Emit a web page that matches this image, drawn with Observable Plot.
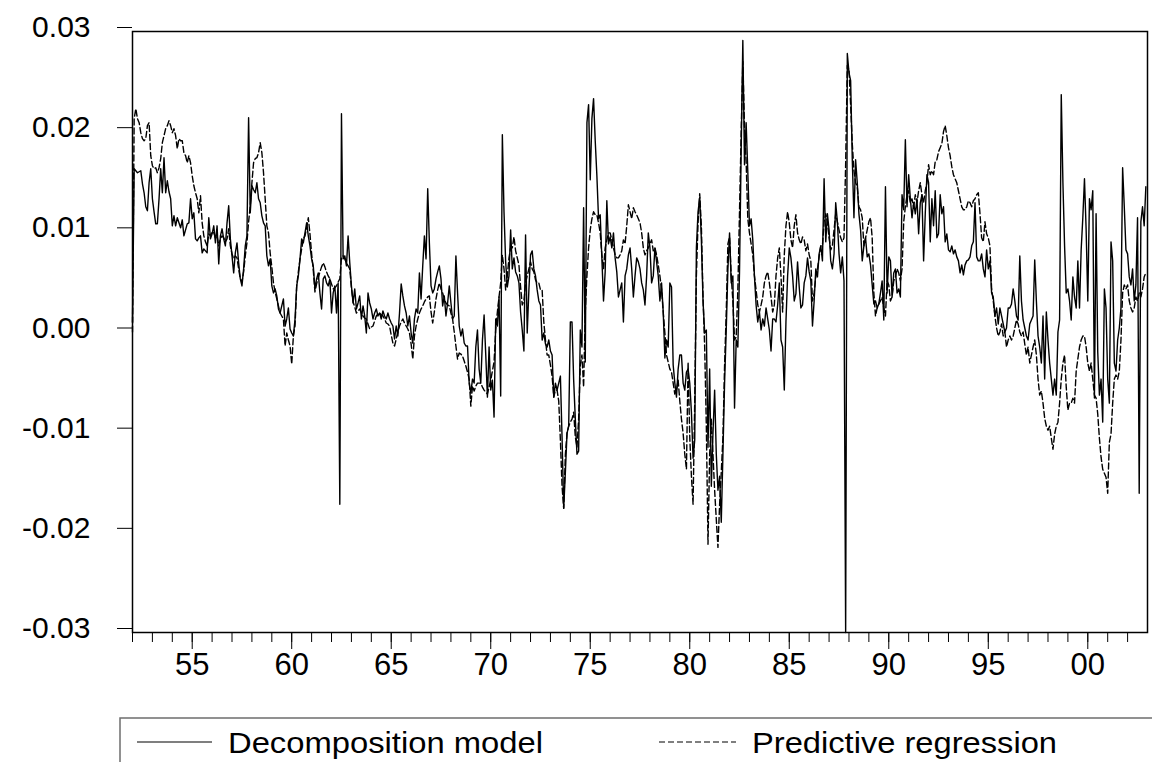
<!DOCTYPE html>
<html>
<head>
<meta charset="utf-8">
<script src="https://cdn.jsdelivr.net/npm/d3@7"></script>
<script src="https://cdn.jsdelivr.net/npm/@observablehq/plot@0.6"></script>
<style>
  html, body { margin: 0; padding: 0; background: #fff; }
  svg { display: block; }
</style>
</head>
<body>
<div id="chart"></div>
<script>
// Monthly observations, January 1952 to December 2002, values in thousandths (per mille).
const startYear = 1952;
const seriesNames = ["Decomposition model", "Predictive regression"];

const decompositionPermil = [
  1.0, 16.3, 16.1, 15.9, 16.0, 16.1, 14.8, 13.9, 12.5, 12.1, 14.9, 16.3,
  13.3, 12.0, 10.8, 10.8, 13.3, 16.3, 13.9, 17.4, 13.9, 15.1, 14.0, 13.3,
  10.6, 11.6, 10.6, 11.4, 10.9, 10.4, 11.2, 9.6, 10.2, 10.8, 10.9, 13.3,
  11.3, 11.9, 9.3, 9.1, 9.4, 9.6, 7.9, 8.3, 8.1, 7.9, 11.4, 9.3,
  9.8, 10.6, 8.9, 10.6, 6.8, 9.6, 10.3, 9.3, 8.6, 10.9, 12.6, 9.3,
  7.6, 5.9, 7.9, 8.9, 6.9, 5.3, 4.6, 6.3, 8.6, 9.6, 21.4, 11.9,
  14.6, 14.2, 13.9, 14.9, 13.3, 12.9, 11.6, 10.9, 10.6, 7.6, 6.6, 7.3,
  4.6, 3.9, 4.3, 3.6, 2.3, 1.9, 2.6, 3.3, 0.6, 1.3, 2.4, 0.3,
  -0.1, -0.4, 1.3, 4.6, 5.6, 7.3, 9.3, 8.9, 9.9, 10.9, 9.6, 8.6,
  7.3, 6.6, 4.3, 5.3, 5.9, 3.9, 2.3, 5.3, 5.6, 4.9, 4.6, 5.3,
  1.9, 3.9, 4.6, 1.9, 4.9, -17.2, 21.8, 7.3, 7.6, 6.6, 9.6, 6.9,
  4.6, 2.9, 4.3, 2.3, 2.9, 3.6, 1.3, 2.6, 1.6, -0.1, 3.9, 2.9,
  2.3, 1.3, 1.9, 2.3, 1.6, 1.9, 1.3, 2.1, 1.6, 1.3, 1.9, 1.3,
  0.9, 0.6, -0.7, 0.6, -0.4, 1.9, 4.8, 3.6, 2.6, 1.9, 0.6, 1.6,
  -0.1, -1.1, 1.3, 2.3, 1.9, 5.9, 3.3, 6.6, 9.6, 7.3, 14.3, 8.9,
  4.6, 3.9, 4.3, 5.3, 6.0, 6.6, 5.3, 2.6, 3.6, 1.6, 2.9, 4.6,
  2.9, 1.3, 1.6, 7.6, 3.9, 0.6, -0.4, 0.3, -1.1, -1.4, -1.4, -5.1,
  -6.1, -4.7, -5.1, -1.5, 0.2, -3.7, -5.1, -0.8, 1.7, -2.3, -6.5, -1.5,
  -5.8, -4.8, -8.5, 1.3, 0.6, 3.5, -6.4, 19.7, 12.0, 7.0, 4.5, 5.6,
  10.2, 6.3, 7.4, 6.0, 5.6, 4.9, 2.0, 0.2, -1.9, 9.7, -0.1, 4.2,
  7.7, 8.1, 6.3, 5.6, 4.2, 3.1, 2.7, -0.8, -0.1, -1.2, -1.5, -0.8,
  -1.9, -2.3, -6.5, -5.1, -5.8, -5.1, -4.4, -10.5, -17.6, -14.0, -10.1, -9.4,
  1.0, 1.0, -4.8, -8.7, -12.2, -11.9, 0.2, -1.5, 12.4, -3.0, 20.9, 22.7,
  15.2, 21.3, 23.3, 19.1, 15.6, 11.3, 11.7, 7.4, 3.1, 6.0, 13.1, 8.8,
  9.5, 8.4, 9.9, 7.4, 6.0, 3.5, 4.2, 4.9, 1.0, 5.6, 6.3, 7.7,
  8.4, 6.3, 3.5, 5.6, 7.4, 7.0, 6.3, 4.9, 4.2, 2.7, 5.6, 9.9,
  8.4, 4.9, 5.6, 8.4, 7.0, 5.6, 3.1, 4.9, 2.0, -2.6, -0.8, -1.5,
  4.9, 4.5, -3.3, -5.1, -6.5, -3.7, -2.3, -2.3, -5.1, -5.8, -4.0, -3.7,
  -5.1, -8.0, -12.6, -10.8, 8.4, 12.0, 13.4, 9.2, 3.1, -0.1, 0.2, -11.5,
  -3.7, -15.4, -10.1, -5.8, -12.2, -15.8, -14.4, -19.0, -12.2, -5.1, 0.2, 6.3,
  9.9, 4.9, 5.6, -7.6, -0.8, -1.5, 6.0, 18.1, 29.1, 16.7, 20.9, 16.0,
  10.6, 11.3, 9.2, 5.6, 2.7, 1.0, 2.0, 0.2, 1.3, 0.6, 2.4, 1.3,
  0.2, -1.9, 1.3, 1.3, 1.0, 2.7, 4.9, -0.8, -1.5, -5.8, 1.0, 5.6,
  8.4, 7.4, 5.6, 3.1, 3.8, 7.0, 4.5, 2.4, 2.7, 4.9, 5.6, 7.4,
  6.0, 5.1, 0.6, 3.1, 6.3, 5.5, 7.8, 8.6, 7.1, 15.3, 9.0, 11.8,
  10.2, 7.1, 6.3, 7.8, 12.9, 11.0, 7.8, 5.9, 7.5, 5.1, -30.0, 27.8,
  25.9, 25.1, 17.2, 11.4, 17.2, 14.9, 11.8, 10.2, 7.1, 8.6, 9.4, 7.5,
  7.8, 6.7, 4.7, 2.8, 3.1, 2.4, 2.8, 3.9, 5.1, 1.2, 14.5, 3.9,
  7.5, 7.1, 3.5, 5.9, 6.3, 3.9, 4.3, 3.5, 13.7, 12.2, 19.2, 12.5,
  15.7, 13.3, 11.4, 12.9, 11.8, 13.3, 9.8, 12.9, 13.7, 7.1, 11.8, 15.7,
  14.9, 9.0, 13.3, 10.6, 14.1, 9.4, 9.8, 13.7, 11.8, 12.5, 9.0, 9.8,
  8.2, 8.0, 8.6, 7.8, 8.2, 7.5, 7.1, 5.9, 6.7, 5.7, 6.7, 7.1,
  7.2, 7.5, 8.6, 9.0, 12.9, 7.5, 7.1, 7.1, 7.8, 6.3, 5.5, 8.2,
  6.3, 7.1, 3.9, 3.5, 1.6, 2.4, 0.8, 2.4, 1.6, 0.8, 0.0, 0.4,
  2.4, 2.4, 2.8, 4.3, 3.1, 1.6, 1.2, 7.6, 3.1, 1.2, 0.4, -0.4,
  -0.8, 0.8, 1.2, 1.6, 7.2, 3.1, -0.4, -1.5, -3.1, 1.6, -4.7, 2.0,
  -0.8, -3.1, -4.7, -6.3, -4.7, -6.3, 0.0, 1.2, 23.7, 14.9, 8.6, 3.9,
  4.3, 3.1, 1.2, 5.5, 3.5, 2.4, 7.1, 2.4, 8.2, 11.4, 15.3, 10.2,
  3.1, 13.3, 12.2, 14.1, -6.6, 11.8, -2.0, -6.3, -4.7, -9.0, 4.3, 2.4,
  -4.7, -7.1, 9.0, 7.1, -3.1, -3.9, -0.8, 0.4, 2.4, 16.4, 12.5, 8.2,
  7.8, 5.5, 4.7, 6.3, 3.1, 4.7, 11.4, -16.1, 11.0, 12.5, 10.6, 14.5
];

const predictivePermil = [
  0.0, 21.3, 22.3, 21.3, 20.9, 19.9, 19.3, 19.1, 19.3, 20.6, 20.9, 17.6,
  16.6, 16.3, 16.4, 15.9, 16.4, 17.3, 18.9, 19.6, 20.3, 20.6, 21.1, 20.6,
  19.9, 20.3, 19.6, 18.3, 19.3, 19.1, 19.1, 17.9, 17.6, 16.9, 17.6, 16.9,
  15.6, 14.6, 13.9, 13.3, 11.9, 13.6, 10.9, 9.6, 9.0, 8.6, 9.8, 9.6,
  10.0, 9.9, 9.4, 9.6, 8.6, 9.3, 9.6, 9.4, 9.0, 9.3, 10.3, 8.6,
  7.8, 7.3, 7.6, 7.4, 6.3, 5.3, 5.0, 6.0, 7.6, 8.9, 11.0, 12.6,
  14.9, 16.9, 17.3, 17.4, 17.9, 18.9, 17.9, 15.9, 13.3, 10.6, 9.9, 7.9,
  6.5, 4.9, 4.0, 3.3, 2.6, 1.9, 1.6, 1.3, -1.4, -0.1, -0.8, -1.4,
  -3.2, -0.4, 0.6, 4.6, 6.0, 7.3, 8.3, 9.3, 9.6, 10.4, 11.4, 9.8,
  7.8, 6.2, 4.0, 4.8, 5.4, 6.0, 6.5, 6.9, 6.5, 6.0, 5.6, 5.3,
  4.8, 4.3, 4.4, 4.6, 5.0, 5.3, 7.4, 7.6, 7.3, 6.9, 6.6, 6.3,
  4.4, 3.0, 2.5, 1.9, 2.1, 2.3, 1.9, 1.6, 1.4, 1.3, 0.8, 0.3,
  0.5, 0.6, 1.1, 1.6, 1.8, 1.9, 1.7, 1.6, 1.3, 0.9, 0.8, 0.6,
  -0.3, -1.1, -1.4, -0.7, 0.0, 0.6, 1.0, 1.3, 0.9, 0.6, 0.3, -0.1,
  -1.2, -2.7, -0.4, 0.6, 1.3, 1.9, 2.3, 2.6, 3.0, 3.3, 3.5, 3.6,
  2.0, 0.9, 2.0, 3.3, 4.2, 4.9, 4.3, 3.9, 3.3, 2.9, 2.7, 2.6,
  1.9, 1.3, 0.0, -1.4, -2.7, -2.1, -2.2, -2.4, -2.9, -3.4, -4.0, -4.7,
  -7.4, -5.4, -5.9, -5.4, -5.1, -5.1, -5.1, -5.5, -5.8, -6.0, -6.2, -5.5,
  -4.8, -3.9, -3.0, 0.2, 2.0, 3.5, 4.9, 7.7, 6.3, 4.2, 5.6, 7.4,
  8.4, 8.4, 9.5, 8.1, 7.4, 6.7, 4.5, 2.7, 3.1, 4.9, 5.6, 6.3,
  7.0, 6.3, 6.0, 5.2, 4.9, 4.9, 4.2, 4.2, 1.0, -0.8, -2.3, -2.3,
  -3.3, -4.4, -6.5, -5.8, -5.8, -6.9, -10.8, -15.4, -17.6, -12.2, -10.1, -9.4,
  -9.0, -8.7, -8.0, -10.5, -11.5, -8.7, -3.3, -2.3, -5.5, 2.0, 5.6, 8.4,
  10.2, 11.3, 12.0, 11.7, 11.7, 10.9, 9.9, 7.7, 6.3, 8.4, 9.2, 9.9,
  9.9, 9.2, 8.4, 7.7, 7.4, 7.4, 7.7, 8.1, 9.2, 8.8, 10.6, 12.7,
  12.0, 11.3, 12.4, 12.0, 11.7, 11.3, 10.9, 9.9, 8.4, 7.7, 8.1, 8.4,
  8.8, 9.2, 8.1, 8.4, 7.7, 6.7, 5.6, 4.2, 2.0, -0.1, -2.3, -3.0,
  -3.7, -4.0, -5.1, -6.2, -5.8, -4.8, -6.9, -8.7, -10.1, -12.2, -13.7, -3.0,
  -10.5, -14.4, -17.2, -6.9, 5.6, 10.9, 13.8, 10.6, 3.5, -1.5, -9.4, -21.2,
  -12.2, -8.7, -12.2, -15.8, -18.7, -21.5, -17.2, -14.0, -10.5, -3.3, 2.0, 8.8,
  9.5, 5.6, 3.1, -0.8, -0.5, 4.2, 12.0, 19.9, 27.0, 20.6, 17.0, 11.3,
  9.9, 8.8, 7.7, 5.6, 4.2, 2.7, 2.0, 2.7, 3.5, 4.9, 5.6, 6.0,
  4.9, 3.5, 2.0, 2.7, 5.6, 7.4, 8.4, 5.6, 2.0, 7.7, 10.6, 12.0,
  10.9, 9.2, 8.4, 10.6, 11.7, 9.9, 9.2, 8.8, 9.5, 9.2, 8.1, 8.8,
  7.7, 7.1, 3.1, 3.9, 5.5, 6.3, 7.5, 8.6, 8.6, 11.0, 11.8, 11.0,
  9.4, 8.2, 8.6, 10.2, 11.8, 11.0, 10.2, 9.4, 9.0, 9.4, 16.8, 26.6,
  26.2, 22.7, 18.8, 16.1, 14.9, 14.5, 12.5, 12.2, 11.4, 8.6, 9.4, 10.2,
  11.0, 11.4, 9.4, 3.9, 1.6, 2.4, 2.8, 3.1, 3.5, 2.4, 1.6, 5.1,
  4.7, 3.1, 3.5, 5.1, 5.5, 6.3, 5.9, 5.1, 6.3, 11.0, 12.5, 13.7,
  14.1, 12.9, 13.3, 12.5, 13.7, 12.9, 14.1, 14.9, 13.7, 12.9, 14.1, 14.9,
  16.7, 15.7, 16.1, 15.7, 17.0, 17.2, 18.0, 18.4, 18.8, 20.0, 20.6, 19.6,
  18.4, 17.6, 16.5, 15.7, 15.3, 14.9, 14.1, 13.3, 12.5, 12.2, 12.2, 12.5,
  13.1, 12.9, 12.5, 13.1, 13.3, 13.7, 13.9, 11.8, 9.4, 9.0, 11.0, 9.8,
  9.4, 8.6, 4.3, 3.1, 1.6, 0.4, -0.4, 0.0, 0.8, -0.4, 0.0, -1.5,
  -0.8, -0.4, -0.8, -0.4, 0.4, 1.2, 0.8, 0.0, -0.4, 0.0, -1.2, -2.3,
  -1.5, -3.1, -2.3, -1.5, -0.8, -2.3, -4.7, -6.3, -5.9, -7.1, -8.6, -9.4,
  -9.8, -9.4, -10.6, -11.7, -10.2, -9.4, -9.0, -7.1, -4.7, -3.1, -2.3, -5.5,
  -7.8, -7.1, -7.1, -6.6, -7.1, -3.9, -2.7, -1.5, -0.8, -0.4, -0.4, -1.5,
  -3.1, -3.9, -3.1, -4.7, -6.3, -6.6, -8.2, -10.6, -12.5, -13.7, -14.1, -14.5,
  -16.1, -11.0, -10.2, -7.1, -4.7, -4.3, -4.7, -3.9, -0.8, 3.9, 4.7, 4.3,
  4.7, 3.1, 2.4, 2.0, 2.4, 3.5, 3.1, 3.9, 3.5, 4.3, 5.5, 5.9
];

const yTickValues = [-0.03, -0.02, -0.01, 0, 0.01, 0.02, 0.03];
const yTickLabels = ["-0.03", "-0.02", "-0.01", "0.00", "0.01", "0.02", "0.03"];
const xTickValues = [1955, 1960, 1965, 1970, 1975, 1980, 1985, 1990, 1995, 2000];
const xTickLabels = ["55", "60", "65", "70", "75", "80", "85", "90", "95", "00"];

// Build the table the library needs
const toRows = (arr, name) => arr.map((v, i) => ({t: startYear + i / 12, v: v / 1000, series: name}));
const decompRows = toRows(decompositionPermil, seriesNames[0]);
const predRows = toRows(predictivePermil, seriesNames[1]);

const yLabelMap = new Map(yTickValues.map((d, i) => [d, yTickLabels[i]]));
const xLabelMap = new Map(xTickValues.map((d, i) => [d, xTickLabels[i]]));

const FONT = "'Liberation Sans', Arial, Helvetica, sans-serif";

const chart = Plot.plot({
  width: 1152,
  height: 700,
  marginTop: 31,
  marginBottom: 68,
  marginLeft: 132,
  marginRight: 5,
  x: {domain: [1952, 2003], label: null},
  y: {domain: [-0.03, 0.03], label: null},
  style: {fontFamily: FONT, background: "#fff", color: "#000", overflow: "visible"},
  marks: [
    Plot.axisY(yTickValues, {tickSize: 15, tickPadding: 27, tickFormat: d => yLabelMap.get(d), fontSize: 30, dy: -4, label: null}),
    Plot.axisX(d3.range(1952, 2003), {tickSize: 10, tickFormat: () => "", label: null}),
    Plot.axisX(xTickValues, {tickSize: 17, tickPadding: 3, tickFormat: d => xLabelMap.get(d), fontSize: 31, label: null}),
    Plot.line(predRows, {x: "t", y: "v", stroke: "#000", strokeWidth: 1.4, strokeDasharray: "6,3"}),
    Plot.line(decompRows, {x: "t", y: "v", stroke: "#000", strokeWidth: 1.4}),
    Plot.frame({stroke: "#000", strokeWidth: 1.5})
  ]
});

document.getElementById("chart").append(chart);

// Legend below the chart
const legend = d3.create("svg")
  .attr("width", 1152)
  .attr("height", 62)
  .style("font-family", FONT);
legend.append("rect")
  .attr("x", 120).attr("y", 18).attr("width", 1100).attr("height", 120)
  .attr("fill", "none").attr("stroke", "#6e6e6e").attr("stroke-width", 1.5);
const items = [
  {name: seriesNames[0], x1: 137, x2: 212, tx: 228, tw: 315, dash: null},
  {name: seriesNames[1], x1: 659, x2: 736, tx: 752, tw: 305, dash: "6,3"}
];
for (const it of items) {
  legend.append("line")
    .attr("x1", it.x1).attr("x2", it.x2).attr("y1", 42).attr("y2", 42)
    .attr("stroke", "#000").attr("stroke-width", 1.2)
    .attr("stroke-dasharray", it.dash);
  legend.append("text")
    .attr("x", it.tx).attr("y", 53)
    .attr("font-size", 30)
    .attr("textLength", it.tw)
    .attr("lengthAdjust", "spacingAndGlyphs")
    .attr("fill", "#000")
    .text(it.name);
}
document.getElementById("chart").append(legend.node());
</script>
</body>
</html>
